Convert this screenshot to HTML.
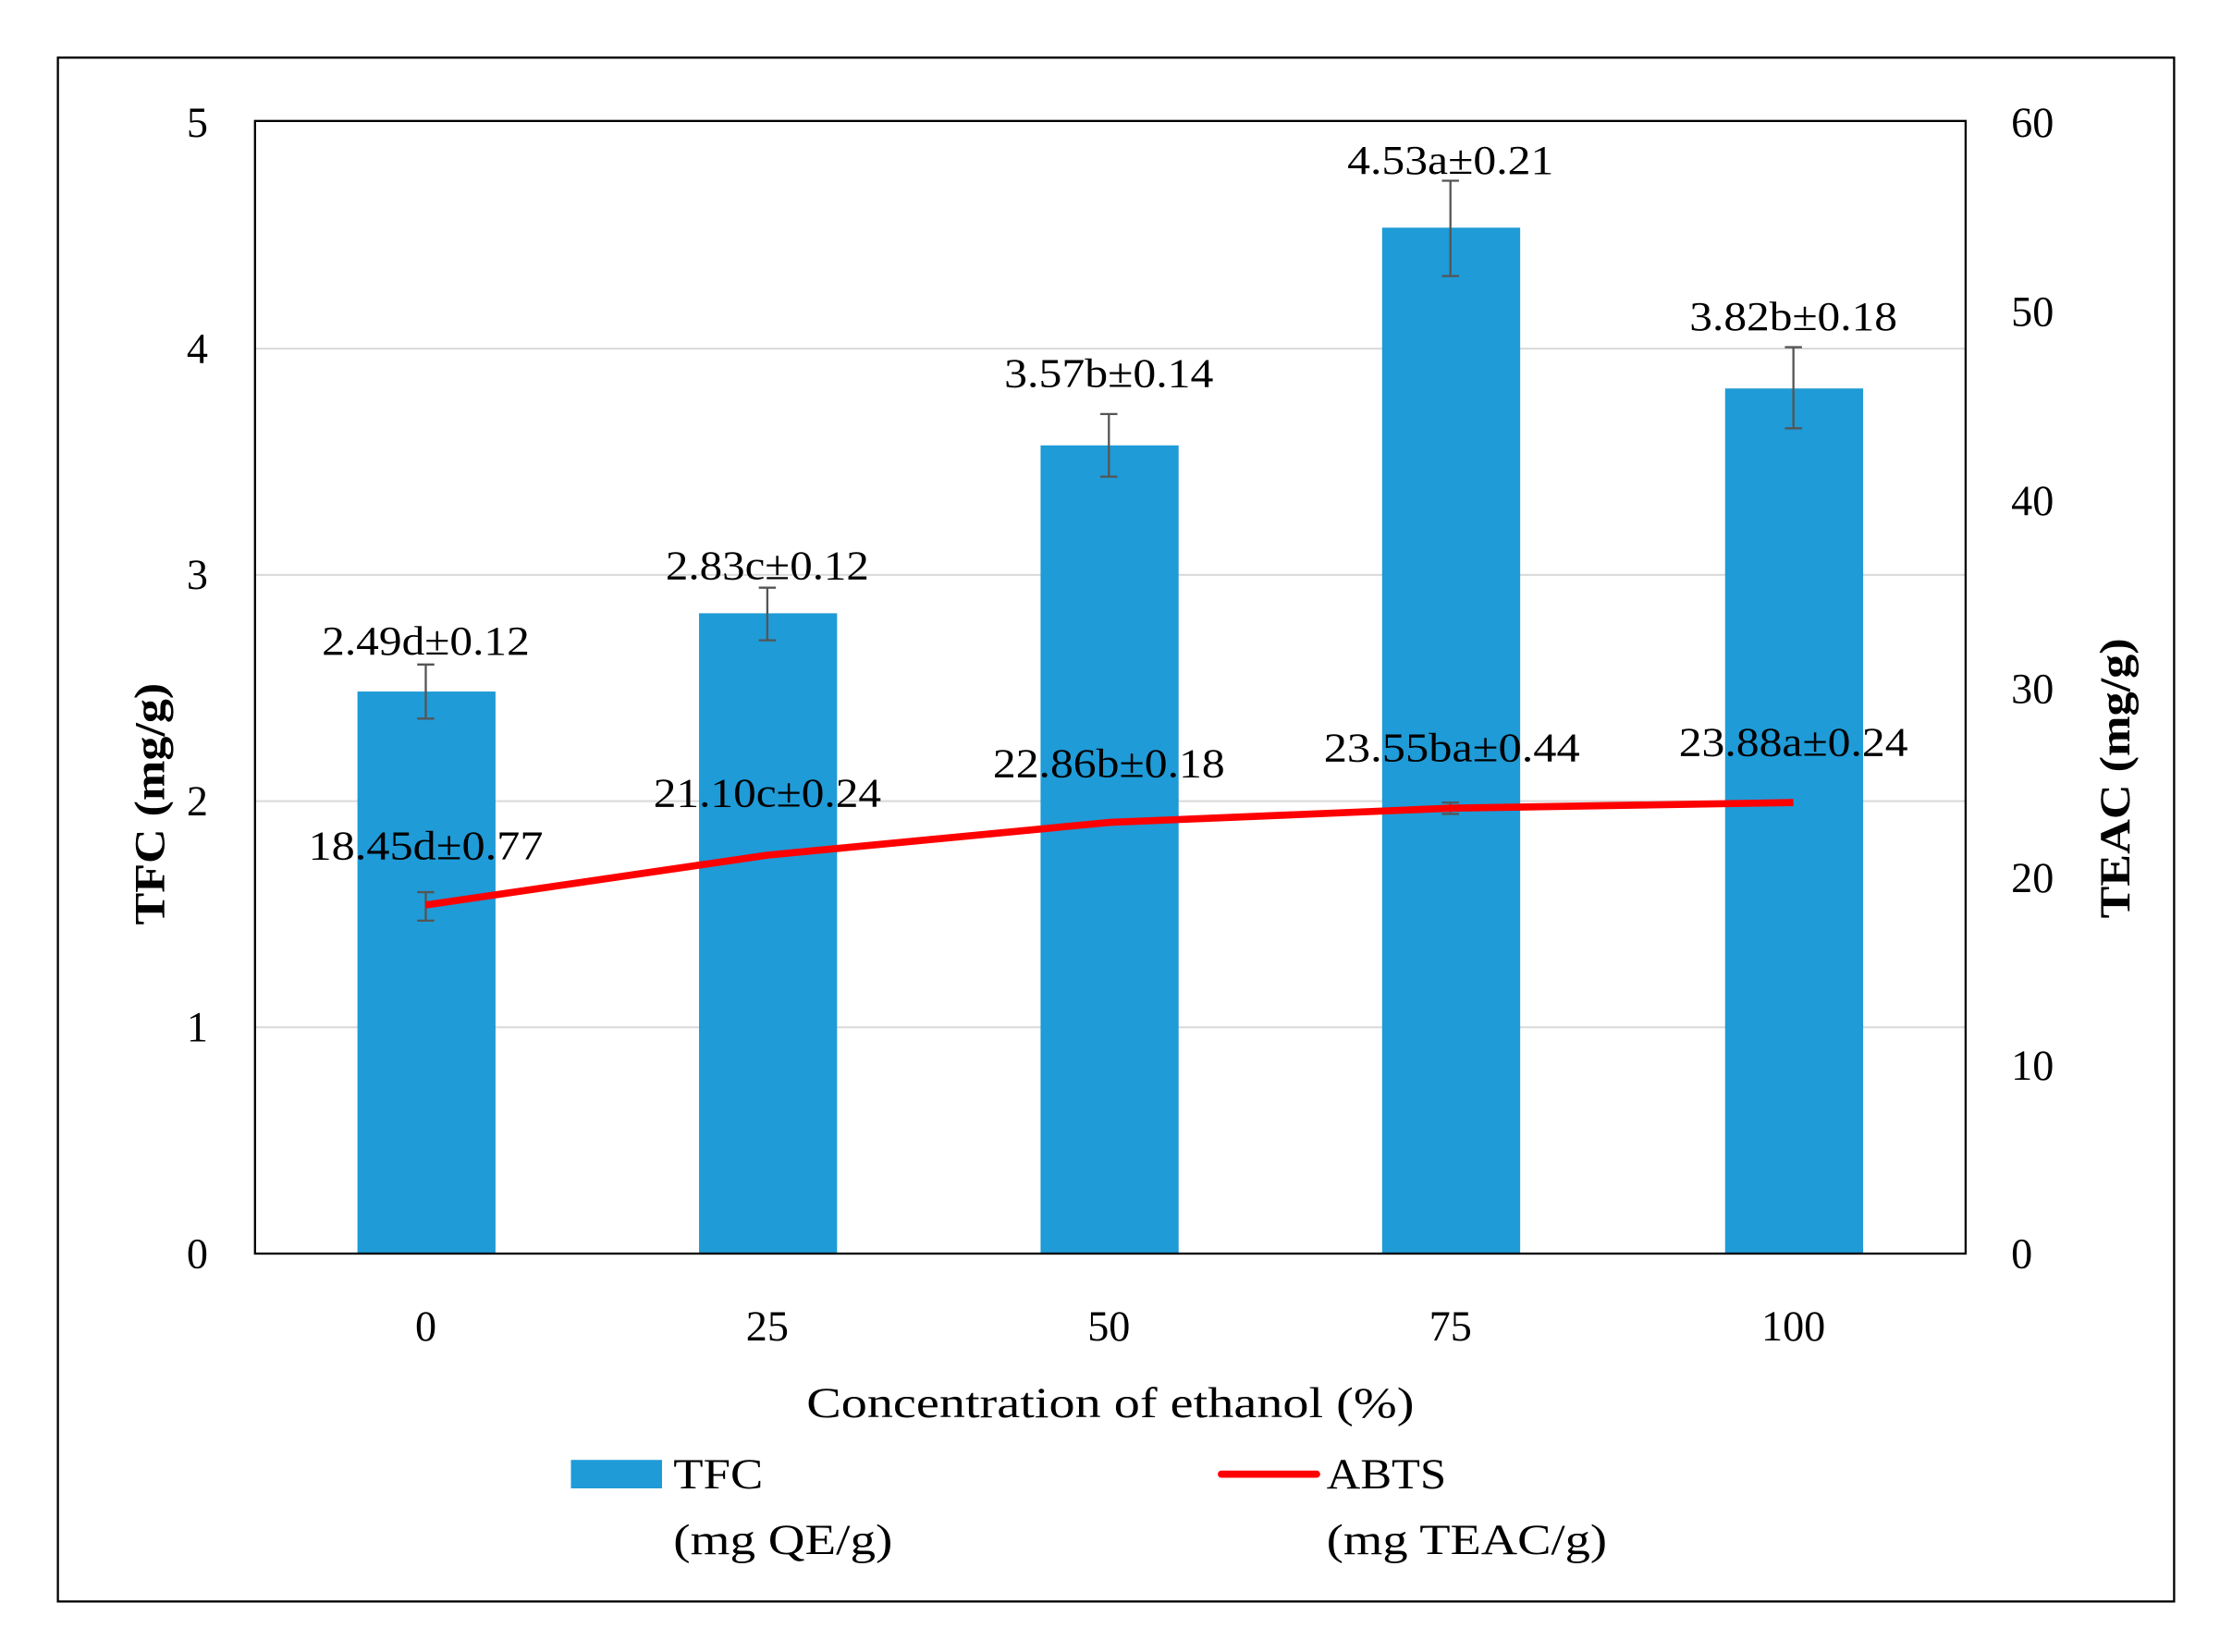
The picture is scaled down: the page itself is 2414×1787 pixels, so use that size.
<!DOCTYPE html>
<html><head><style>html,body{margin:0;padding:0;background:#fff}svg{display:block}</style></head>
<body>
<svg width="2414" height="1787" viewBox="0 0 1568 1161" xmlns="http://www.w3.org/2000/svg" font-family="Liberation Serif, serif">
<rect x="0" y="0" width="1568" height="1161" fill="#fff"/>
<rect x="40.5" y="40.5" width="1487" height="1085" fill="none" stroke="#000" stroke-width="1.5"/>
<g stroke="#d9d9d9" stroke-width="1.3">
<line x1="179" x2="1381" y1="722" y2="722"/><line x1="179" x2="1381" y1="563" y2="563"/>
<line x1="179" x2="1381" y1="404" y2="404"/><line x1="179" x2="1381" y1="245" y2="245"/>
</g>
<g fill="#1f9bd7">
<rect x="251" y="486" width="97" height="395"/>
<rect x="491" y="431" width="97" height="450"/>
<rect x="731" y="313" width="97" height="568"/>
<rect x="971" y="160" width="97" height="721"/>
<rect x="1212" y="273" width="97" height="608"/>
</g>
<rect x="179" y="85" width="1202" height="796" fill="none" stroke="#000" stroke-width="1.5"/>
<g stroke="#555" stroke-width="1.5">
<path d="M299 467V505M293 467H305M293 505H305"/>
<path d="M539 413V450M533 413H545M533 450H545"/>
<path d="M779 291V335M773 291H785M773 335H785"/>
<path d="M1019 127V194M1013 127H1025M1013 194H1025"/>
<path d="M1260 244V301M1254 244H1266M1254 301H1266"/>
<path d="M299 627V647M293 627H305M293 647H305"/>
<path d="M1019 564V572M1013 564H1025M1013 572H1025"/>
</g>
<polyline points="299,636 539,601 779,578 1019,568 1260,564" fill="none" stroke="#ff0000" stroke-width="5" stroke-linejoin="round"/>
<g font-size="29" text-anchor="middle" fill="#000" lengthAdjust="spacingAndGlyphs">
<text x="299" y="460" textLength="146" lengthAdjust="spacingAndGlyphs">2.49d±0.12</text>
<text x="539" y="407" textLength="143" lengthAdjust="spacingAndGlyphs">2.83c±0.12</text>
<text x="779" y="272" textLength="147" lengthAdjust="spacingAndGlyphs">3.57b±0.14</text>
<text x="1019" y="122" textLength="145" lengthAdjust="spacingAndGlyphs">4.53a±0.21</text>
<text x="1260" y="232" textLength="146" lengthAdjust="spacingAndGlyphs">3.82b±0.18</text>
<text x="299" y="604" textLength="165" lengthAdjust="spacingAndGlyphs">18.45d±0.77</text>
<text x="539" y="567" textLength="160" lengthAdjust="spacingAndGlyphs">21.10c±0.24</text>
<text x="779" y="546" textLength="163" lengthAdjust="spacingAndGlyphs">22.86b±0.18</text>
<text x="1020" y="535" textLength="180" lengthAdjust="spacingAndGlyphs">23.55ba±0.44</text>
<text x="1260" y="531" textLength="161" lengthAdjust="spacingAndGlyphs">23.88a±0.24</text>
</g>
<g font-size="30" text-anchor="end">
<text x="146" y="96">5</text><text x="146" y="255">4</text><text x="146" y="414">3</text>
<text x="146" y="573">2</text><text x="146" y="732">1</text><text x="146" y="891">0</text>
</g>
<g font-size="30" text-anchor="start">
<text x="1413" y="96">60</text><text x="1413" y="229">50</text><text x="1413" y="362">40</text>
<text x="1413" y="494">30</text><text x="1413" y="627">20</text><text x="1413" y="759">10</text>
<text x="1413" y="891">0</text>
</g>
<g font-size="30" text-anchor="middle">
<text x="299" y="942">0</text><text x="539" y="942">25</text><text x="779" y="942">50</text>
<text x="1019" y="942">75</text><text x="1260" y="942">100</text>
<text x="780" y="996" textLength="427" lengthAdjust="spacingAndGlyphs">Concentration of ethanol (%)</text>
</g>
<text font-size="30" font-weight="bold" text-anchor="middle" transform="translate(115,565) rotate(-90)" textLength="170" lengthAdjust="spacingAndGlyphs">TFC (mg/g)</text>
<text font-size="30" font-weight="bold" text-anchor="middle" transform="translate(1496,547) rotate(-90)" textLength="197" lengthAdjust="spacingAndGlyphs">TEAC (mg/g)</text>
<rect x="401" y="1026" width="64" height="20" fill="#1f9bd7"/>
<text x="473" y="1046" font-size="30" textLength="63" lengthAdjust="spacingAndGlyphs">TFC</text>
<text x="473" y="1092" font-size="30" textLength="154" lengthAdjust="spacingAndGlyphs">(mg QE/g)</text>
<line x1="858" x2="925" y1="1036" y2="1036" stroke="#ff0000" stroke-width="5" stroke-linecap="round"/>
<text x="932" y="1046" font-size="30" textLength="84" lengthAdjust="spacingAndGlyphs">ABTS</text>
<text x="932" y="1092" font-size="30" textLength="197" lengthAdjust="spacingAndGlyphs">(mg TEAC/g)</text>
</svg>
</body></html>
